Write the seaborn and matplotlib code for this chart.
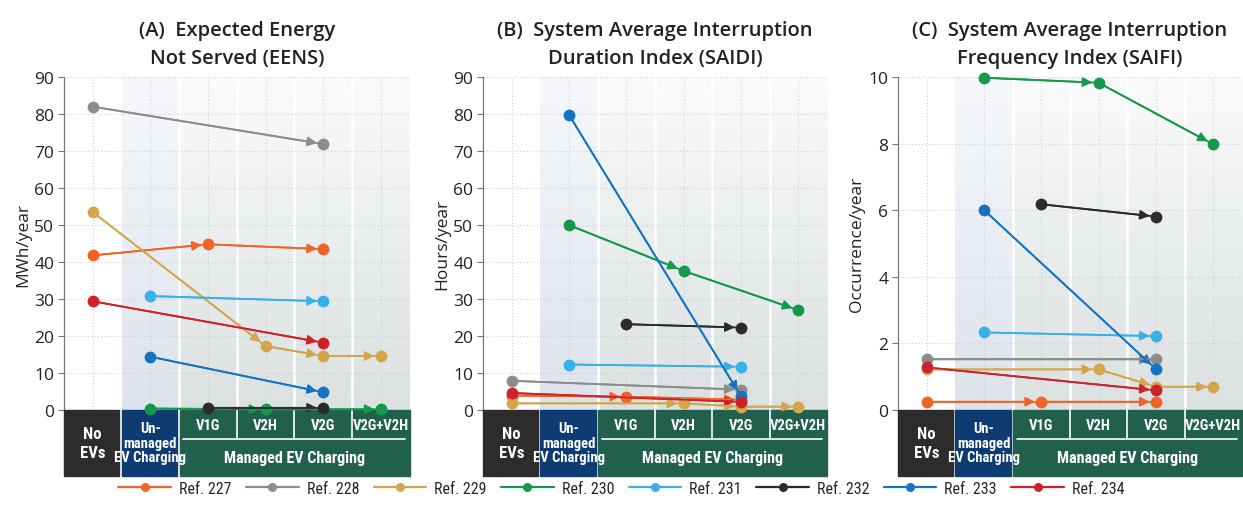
import matplotlib
matplotlib.use("Agg")
import matplotlib.pyplot as plt
import matplotlib.transforms as mtransforms
from matplotlib import font_manager
from matplotlib.colors import LinearSegmentedColormap
from matplotlib.lines import Line2D
from matplotlib.patches import Rectangle
import seaborn as sns
import numpy as np
import pandas as pd

# stages along the x axis
stages = ['No EVs', 'Unmanaged', 'V1G', 'V2H', 'V2G', 'V2G+V2H']
refs = ['Ref. 227', 'Ref. 228', 'Ref. 229', 'Ref. 230',
        'Ref. 231', 'Ref. 232', 'Ref. 233', 'Ref. 234']
ref_colors = ['#f0642a', '#8c8c8c', '#d3a64c', '#14994b',
              '#38b0e8', '#2b2b2b', '#1573c2', '#cc2229']

# (A) EENS, MWh/year  -> (stage, value) per reference
eens = {
    'Ref. 227': [('No EVs', 41.8), ('V1G', 44.8), ('V2G', 43.5)],
    'Ref. 228': [('No EVs', 82.0), ('V2G', 71.9)],
    'Ref. 229': [('No EVs', 53.5), ('V2H', 17.3), ('V2G', 14.6), ('V2G+V2H', 14.6)],
    'Ref. 230': [('Unmanaged', 0.4), ('V2H', 0.2), ('V2G+V2H', 0.2)],
    'Ref. 231': [('Unmanaged', 30.8), ('V2G', 29.4)],
    'Ref. 232': [('V1G', 0.6), ('V2G', 0.6)],
    'Ref. 233': [('Unmanaged', 14.4), ('V2G', 4.8)],
    'Ref. 234': [('No EVs', 29.4), ('V2G', 18.2)],
}

# (B) SAIDI, hours/year
saidi = {
    'Ref. 227': [('No EVs', 3.9), ('V1G', 3.6), ('V2G', 2.8)],
    'Ref. 228': [('No EVs', 7.9), ('V2G', 5.5)],
    'Ref. 229': [('No EVs', 1.8), ('V2H', 1.8), ('V2G', 0.9), ('V2G+V2H', 0.9)],
    'Ref. 230': [('Unmanaged', 50.0), ('V2H', 37.6), ('V2G+V2H', 27.0)],
    'Ref. 231': [('Unmanaged', 12.3), ('V2G', 11.7)],
    'Ref. 232': [('V1G', 23.2), ('V2G', 22.3)],
    'Ref. 233': [('Unmanaged', 79.8), ('V2G', 3.7)],
    'Ref. 234': [('No EVs', 4.6), ('V2G', 2.2)],
}

# (C) SAIFI, occurrence/year
saifi = {
    'Ref. 227': [('No EVs', 0.25), ('V1G', 0.25), ('V2G', 0.25)],
    'Ref. 228': [('No EVs', 1.52), ('V2G', 1.52)],
    'Ref. 229': [('No EVs', 1.22), ('V2H', 1.22), ('V2G', 0.70), ('V2G+V2H', 0.70)],
    'Ref. 230': [('Unmanaged', 9.98), ('V2H', 9.83), ('V2G+V2H', 7.98)],
    'Ref. 231': [('Unmanaged', 2.33), ('V2G', 2.22)],
    'Ref. 232': [('V1G', 6.18), ('V2G', 5.81)],
    'Ref. 233': [('Unmanaged', 6.01), ('V2G', 1.23)],
    'Ref. 234': [('No EVs', 1.28), ('V2G', 0.59)],
}

titles = ['(A)  Expected Energy\nNot Served (EENS)',
          '(B)  System Average Interruption\nDuration Index (SAIDI)',
          '(C)  System Average Interruption\nFrequency Index (SAIFI)']
ylabels = ['MWh/year', 'Hours/year', 'Occurrence/year']
ymax = [90, 90, 10]
yticks = [np.arange(0, 91, 10), np.arange(0, 91, 10), np.arange(0, 11, 2)]


def pick_font(names):
    avail = {f.name for f in font_manager.fontManager.ttflist}
    for n in names:
        if n in avail:
            return n
    return 'DejaVu Sans'


main_font = pick_font(['Open Sans', 'Lato', 'Noto Sans', 'DejaVu Sans'])
narrow_font = pick_font(['Liberation Sans Narrow', 'Roboto Condensed', 'DejaVu Sans'])

sns.set_theme(style='white')
plt.rcParams['font.family'] = [main_font, 'DejaVu Sans']

palette = dict(zip(refs, ref_colors))

fig = plt.figure(figsize=(12.43, 5.06), dpi=100)
axes_pos = [(0.0515, 0.1877, 0.2780, 0.658),
            (0.3886, 0.1877, 0.2767, 0.658),
            (0.7224, 0.1877, 0.2767, 0.658)]

unmanaged_cmap = LinearSegmentedColormap.from_list('um', ['#f6f8fb', '#dde3ec'])
managed_cmap = LinearSegmentedColormap.from_list('mg', ['#fafbfb', '#dbe0e0'])
grad = np.linspace(0, 1, 256).reshape(-1, 1)

for k, data in enumerate([eens, saidi, saifi]):
    ax = fig.add_axes(axes_pos[k])
    top = ymax[k]

    # background panels
    ax.imshow(grad, extent=(0.5, 1.5, 0, top), aspect='auto', cmap=unmanaged_cmap,
              origin='upper', zorder=0)
    ax.imshow(grad, extent=(1.5, 5.5, 0, top), aspect='auto', cmap=managed_cmap,
              origin='upper', zorder=0)
    for xb in [1.5, 2.5, 3.5, 4.5]:
        ax.axvline(xb, color='white', lw=1.8, zorder=0.5)

    # dotted grid
    for yv in yticks[k]:
        ax.axhline(yv, color='#cfcfcf', lw=0.8, ls=(0, (1, 2)), zorder=1)
    for xv in range(len(stages)):
        ax.axvline(xv, color='#cfcfcf', lw=0.8, ls=(0, (1, 2)), zorder=1)

    rows = []
    for ref, pts in data.items():
        for st, v in pts:
            rows.append((ref, stages.index(st), v))
    df = pd.DataFrame(rows, columns=['ref', 'x', 'value'])

    sns.lineplot(data=df, x='x', y='value', hue='ref', palette=palette,
                 estimator=None, sort=True, marker='o', markersize=8.5,
                 markeredgewidth=0, lw=1.3, legend=False, ax=ax,
                 clip_on=False, zorder=5)

    # arrow heads on each segment
    for ref, pts in data.items():
        c = palette[ref]
        for (s1, v1), (s2, v2) in zip(pts[:-1], pts[1:]):
            ax.annotate('', xy=(stages.index(s2), v2), xytext=(stages.index(s1), v1),
                        arrowprops=dict(arrowstyle='-|>', color=c, lw=1.3,
                                        shrinkA=0, shrinkB=4.5, mutation_scale=14),
                        annotation_clip=False, zorder=4)

    ax.set_xlim(-0.5, 5.5)
    ax.set_ylim(0, top)
    ax.set_yticks(yticks[k])
    ax.set_xticks([])
    ax.set_xlabel('')
    ax.set_ylabel(ylabels[k], fontsize=12.5, labelpad=2, color='#222222')
    ax.tick_params(axis='y', labelsize=12.5, length=4, width=0.8, color='#777777',
                   labelcolor='#222222', pad=3, left=True)
    for s in ['top', 'right', 'bottom']:
        ax.spines[s].set_visible(False)
    ax.spines['left'].set_color('#777777')
    ax.spines['left'].set_linewidth(0.9)
    ax.set_title(titles[k], fontsize=14.5, fontweight='semibold', pad=10,
                 color='#222222', linespacing=1.55)

    # category boxes under the axis
    tr = mtransforms.blended_transform_factory(ax.transData, ax.transAxes)
    bot, mid = -0.197, -0.088
    ax.add_patch(Rectangle((-0.5, bot), 0.96, -bot, transform=tr, color='#2d2b2b',
                           clip_on=False, zorder=3))
    ax.add_patch(Rectangle((0.5, bot), 0.97, -bot, transform=tr, color='#0e3b72',
                           clip_on=False, zorder=3))
    ax.add_patch(Rectangle((1.51, bot), 3.99, -bot, transform=tr, color='#22604e',
                           clip_on=False, zorder=3))
    for xb in [2.5, 3.5, 4.5]:
        ax.add_line(Line2D([xb, xb], [mid, 0], transform=tr, color='white', lw=1.2,
                           clip_on=False, zorder=3.5))
    ax.add_line(Line2D([1.57, 5.42], [mid, mid], transform=tr, color='white', lw=1.2,
                       clip_on=False, zorder=3.5))
    box_txt = dict(transform=tr, color='white', ha='center', va='center',
                   family=[narrow_font, 'DejaVu Sans'], fontweight='bold',
                   clip_on=False, zorder=6)
    ax.text(0, bot / 2, 'No\nEVs', fontsize=12, linespacing=1.35, **box_txt)
    ax.text(1, bot / 2, 'Un-\nmanaged\nEV Charging', fontsize=10.5, linespacing=1.05,
            **box_txt)
    for xi in range(2, 6):
        ax.text(xi, mid / 2, stages[xi], fontsize=10.5, **box_txt)
    ax.text(3.5, (mid + bot) / 2, 'Managed EV Charging', fontsize=11.5, **box_txt)

handles = [Line2D([0], [0], color=c, lw=1.6, marker='o', markersize=6.5,
                  markeredgewidth=0) for c in ref_colors]
fig.legend(handles, refs, loc='lower center', bbox_to_anchor=(0.5, -0.01), ncol=8,
           frameon=False, handlelength=3.3, columnspacing=0.9, handletextpad=0.5,
           prop={'family': [narrow_font, 'DejaVu Sans'], 'size': 11.5})

fig.savefig('out.png', dpi=100)
